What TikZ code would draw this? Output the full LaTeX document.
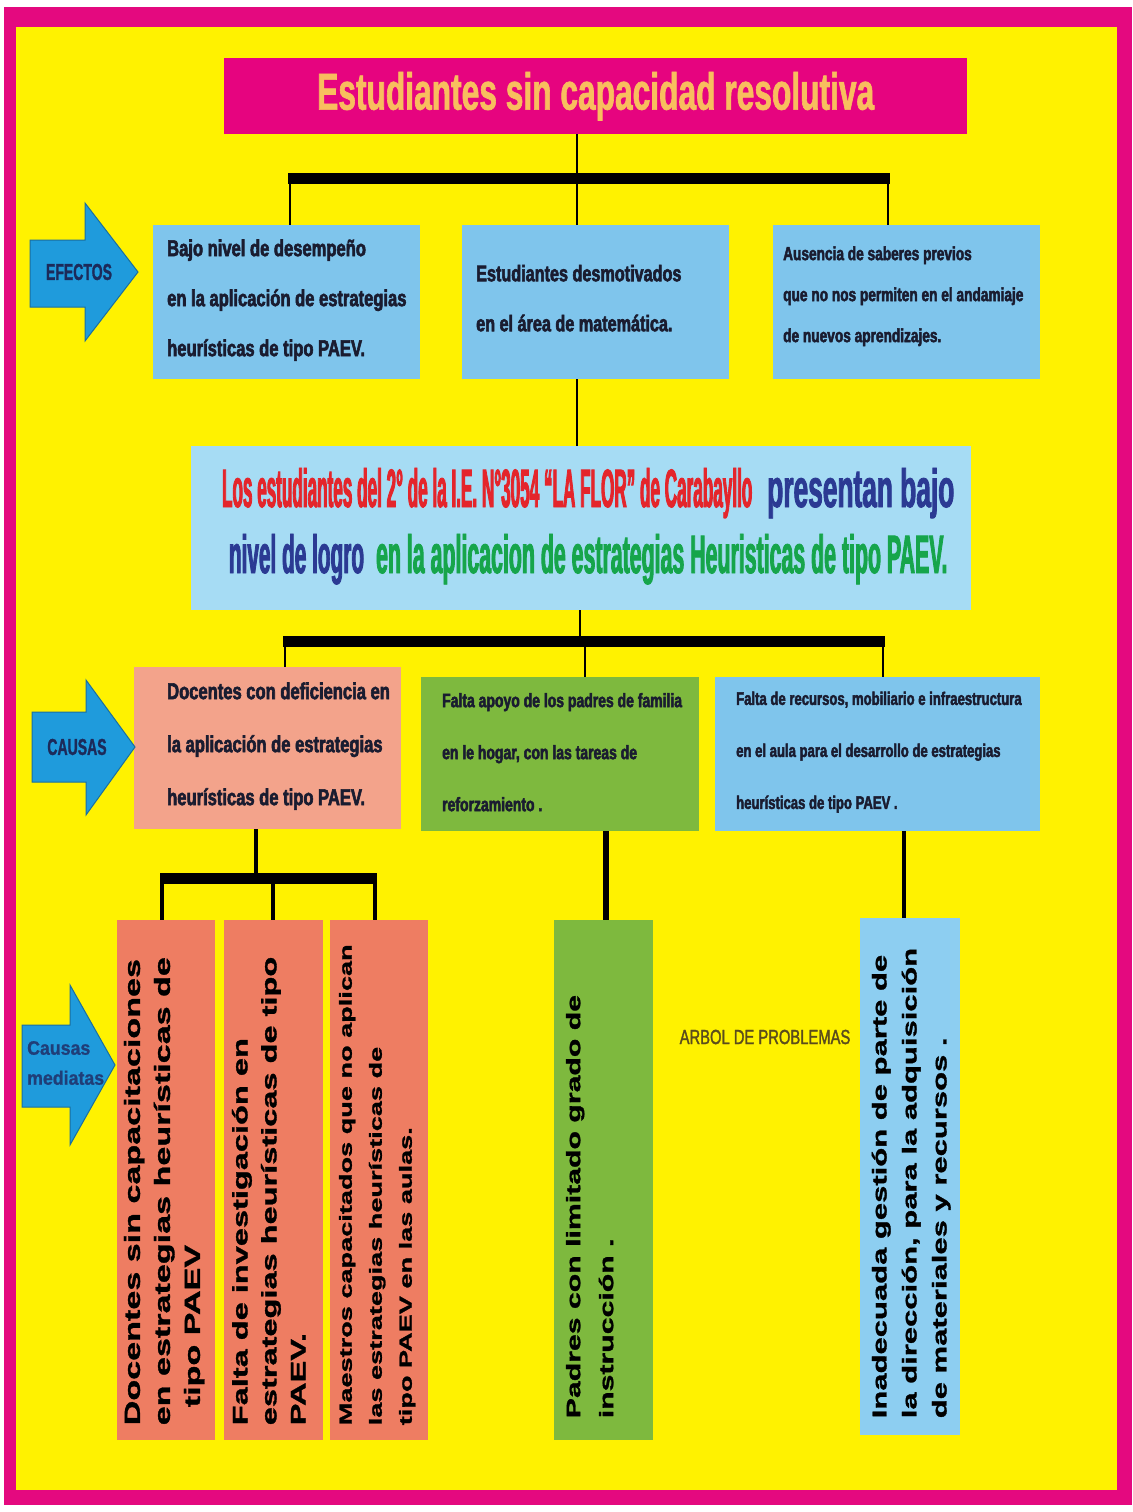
\documentclass[tikz,border=0pt]{standalone}
\usepackage{fontspec}
\setmainfont{Liberation Sans}
\newfontfamily\fontTitle[FakeStretch=0.61,FakeBold=1.2]{Liberation Sans}
\newfontfamily\fontEff[FakeStretch=0.72,FakeBold=2.5]{Liberation Sans}
\newfontfamily\fontArb[FakeStretch=0.72,FakeBold=1.5]{Liberation Sans}
\newfontfamily\fontRed[FakeStretch=0.317,FakeBold=1.5]{Liberation Sans}
\newfontfamily\fontBlu[FakeStretch=0.487,FakeBold=1.5]{Liberation Sans}
\newfontfamily\fontNiv[FakeStretch=0.385,FakeBold=1.5]{Liberation Sans}
\newfontfamily\fontGrn[FakeStretch=0.395,FakeBold=1.5]{Liberation Sans}
\newfontfamily\fontVert[FakeStretch=1.55,FakeBold=1.5]{Liberation Sans}
\newfontfamily\fontArw[FakeStretch=0.91,FakeBold=1]{Liberation Sans}
\definecolor{yel}{HTML}{FFF200}
\definecolor{mag}{HTML}{E4097F}
\definecolor{ttlbox}{HTML}{E6047F}
\definecolor{ttltxt}{HTML}{F8BE5E}
\definecolor{effb}{HTML}{7FC5EC}
\definecolor{cenb}{HTML}{A6DCF4}
\definecolor{salm}{HTML}{F3A38B}
\definecolor{grnb}{HTML}{7EB93E}
\definecolor{coral}{HTML}{EE7D62}
\definecolor{vblue}{HTML}{8DCEF1}
\definecolor{arrb}{HTML}{1F9BDC}
\definecolor{arrd}{HTML}{1A6FA0}
\definecolor{dk}{HTML}{1A1C30}
\definecolor{navyt}{HTML}{1C2A5A}
\definecolor{navy2}{HTML}{1F3E78}
\definecolor{redt}{HTML}{E4252B}
\definecolor{bluet}{HTML}{2B3A93}
\definecolor{grnt}{HTML}{16A54B}
\definecolor{olive}{HTML}{5A4C1C}
\tikzset{
  boxsty/.style={draw=none, inner sep=0pt, anchor=north west},
  txt/.style={inner sep=0pt, align=left, anchor=west, text=dk},
  vtxt/.style={inner sep=0pt, align=left, anchor=west, rotate=90, text=black},
  conn/.style={draw=black, line width=2.5pt},
  connb/.style={draw=black, line width=4.5pt},
  connc/.style={draw=black, line width=6pt},
  hbar/.style={draw=black, line width=11pt, shorten <=-2pt, shorten >=-2pt},
  arrowshape/.style={fill=arrb, draw=arrd, line width=1pt, line join=miter}
}
\begin{document}
\begin{tikzpicture}[x=1pt,y=-1pt]
\useasboundingbox (0,0) rectangle (1132,1512);
\fill[white] (0,0) rectangle (1132,1512);
\fill[mag] (4,7) rectangle (1132,1505);
\fill[yel] (16,27) rectangle (1117,1490);

% title
\node[boxsty, fill=ttlbox, minimum width=743pt, minimum height=76pt] (title) at (224,58) {};
\node[inner sep=0pt, text=ttltxt, font=\fontTitle\bfseries\fontsize{52pt}{60pt}\selectfont] (titlet) at (title.center) {Estudiantes sin capacidad resolutiva};

% effects
\node[boxsty, fill=effb, minimum width=267pt, minimum height=154pt] (e1) at (153,225) {};
\node[boxsty, fill=effb, minimum width=267pt, minimum height=154pt] (e2) at (462,225) {};
\node[boxsty, fill=effb, minimum width=267pt, minimum height=154pt] (e3) at (773,225) {};
\node[txt, font=\fontEff\bfseries\fontsize{23pt}{50pt}\selectfont] (e1t) at ([xshift=14pt,yshift=2pt]e1.west) {Bajo nivel de desempeño\\en la aplicación de estrategias\\heurísticas de tipo PAEV.};
\node[txt, font=\fontEff\bfseries\fontsize{22.5pt}{50pt}\selectfont] (e2t) at ([xshift=14pt,yshift=4pt]e2.west) {Estudiantes desmotivados\\en el área de matemática.};
\node[txt, font=\fontEff\bfseries\fontsize{19pt}{41pt}\selectfont] (e3t) at ([xshift=10pt,yshift=6pt]e3.west) {Ausencia de saberes previos\\que no nos permiten en el andamiaje\\de nuevos aprendizajes.};

% central
\node[boxsty, fill=cenb, minimum width=780pt, minimum height=164pt] (cen) at (191,446) {};
\node[inner sep=0pt, align=center, font=\bfseries\fontsize{54pt}{66pt}\selectfont] (cent) at ([xshift=7pt,yshift=2pt]cen.center)
 {{\fontRed\color{redt}Los estudiantes del 2° de la I.E. N°3054 “LA FLOR” de Carabayllo} {\fontBlu\color{bluet}presentan bajo}\\
  {\fontNiv\color{bluet}nivel de logro}\hspace{12pt}{\fontGrn\color{grnt}en la aplicacion de estrategias Heuristicas de tipo PAEV.}};

% causes
\node[boxsty, fill=salm, minimum width=267pt, minimum height=162pt] (c1) at (134,667) {};
\node[boxsty, fill=grnb, minimum width=278pt, minimum height=154pt] (c2) at (421,677) {};
\node[boxsty, fill=effb, minimum width=325pt, minimum height=154pt] (c3) at (715,677) {};
\node[txt, font=\fontEff\bfseries\fontsize{23pt}{53pt}\selectfont] (c1t) at ([xshift=33pt,yshift=2pt]c1.west) {Docentes con deficiencia en\\la aplicación de estrategias\\heurísticas de tipo PAEV.};
\node[txt, font=\fontEff\bfseries\fontsize{19.4pt}{52pt}\selectfont] (c2t) at ([xshift=21pt,yshift=2pt]c2.west) {Falta apoyo de los padres de familia\\en le hogar, con las tareas de\\reforzamiento .};
\node[txt, font=\fontEff\bfseries\fontsize{18.2pt}{52pt}\selectfont] (c3t) at ([xshift=21pt,yshift=2pt]c3.west) {Falta de recursos, mobiliario e infraestructura\\en el aula para el desarrollo de estrategias\\heurísticas de tipo PAEV .};

% mediate causes
\node[boxsty, fill=coral, minimum width=98pt, minimum height=520pt] (m1) at (117,920) {};
\node[boxsty, fill=coral, minimum width=99pt, minimum height=520pt] (m2) at (224,920) {};
\node[boxsty, fill=coral, minimum width=98pt, minimum height=520pt] (m3) at (330,920) {};
\node[boxsty, fill=grnb, minimum width=99pt, minimum height=520pt] (p1) at (554,920) {};
\node[boxsty, fill=vblue, minimum width=100pt, minimum height=517pt] (i1) at (860,918) {};
\node[vtxt, font=\fontVert\bfseries\fontsize{22pt}{30pt}\selectfont] (m1t) at ([xshift=-2pt,yshift=15pt]m1.south) {Docentes sin capacitaciones\\en estrategias heurísticas de\\\hspace*{18pt}tipo PAEV};
\node[vtxt, font=\fontVert\bfseries\fontsize{21pt}{29pt}\selectfont] (m2t) at ([xshift=-5pt,yshift=15pt]m2.south) {Falta de investigación en\\estrategias heurísticas de tipo\\PAEV.};
\node[vtxt, font=\fontVert\bfseries\fontsize{17.5pt}{30pt}\selectfont] (m3t) at ([xshift=-2pt,yshift=15pt]m3.south) {Maestros capacitados que no aplican\\las estrategias heurísticas de\\tipo PAEV en las aulas.};
\node[vtxt, font=\fontVert\bfseries\fontsize{19.5pt}{33pt}\selectfont] (p1t) at ([xshift=-14pt,yshift=22pt]p1.south) {Padres con limitado grado de\\instrucción .};
\node[vtxt, font=\fontVert\bfseries\fontsize{20pt}{30pt}\selectfont] (i1t) at ([xshift=1pt,yshift=17pt]i1.south) {Inadecuada gestión de parte de\\la dirección, para la adquisición\\de materiales y recursos .};

% side arrows
\draw[arrowshape] (30,240) -- (85,240) -- (85,203) -- (138,272) -- (85,341) -- (85,307) -- (30,307) -- cycle;
\node[inner sep=0pt, text=navyt, font=\fontTitle\bfseries\fontsize{23pt}{26pt}\selectfont] (efl) at (79,272) {EFECTOS};
\draw[arrowshape] (32,712) -- (86,712) -- (86,680) -- (135,747) -- (86,815) -- (86,782) -- (32,782) -- cycle;
\node[inner sep=0pt, text=navyt, font=\fontTitle\bfseries\fontsize{23pt}{26pt}\selectfont] (cal) at (77,747) {CAUSAS};
\draw[arrowshape] (22,1025) -- (70,1025) -- (70,985) -- (115,1065) -- (70,1145) -- (70,1107) -- (22,1107) -- cycle;
\node[inner sep=0pt, align=left, anchor=west, text=navy2, font=\fontArw\bfseries\fontsize{19.5pt}{30pt}\selectfont] (cml) at (27,1063) {Causas\\mediatas};

\node[inner sep=0pt, text=olive, font=\fontArb\fontsize{20.5pt}{24pt}\selectfont] (arbol) at (765,1037) {ARBOL DE PROBLEMAS};

% connectors top
\coordinate (jt) at (577,178);
\coordinate (bAl) at (290,178);
\coordinate (bAr) at (888,178);
\draw[conn] (title.south -| jt) -- (jt);
\draw[hbar] (bAl) -- (bAr);
\draw[conn] (bAl) -- (bAl |- e1.north);
\draw[conn] (jt) -- (jt |- e2.north);
\draw[conn] (bAr) -- (bAr |- e3.north);
\draw[conn] (e2.south -| jt) -- (jt |- cen.north);

% connectors middle
\coordinate (jb) at (580,641);
\coordinate (bBl) at (285,641);
\coordinate (bBm) at (585,641);
\coordinate (bBr) at (883,641);
\draw[conn] (cen.south -| jb) -- (jb);
\draw[hbar] (bBl) -- (bBr);
\draw[conn] (bBl) -- (bBl |- c1.north);
\draw[conn] (bBm) -- (bBm |- c2.north);
\draw[conn] (bBr) -- (bBr |- c3.north);

% connectors bottom
\coordinate (jc) at (256,878);
\coordinate (bCl) at (162,878);
\coordinate (bCm) at (273,878);
\coordinate (bCr) at (375,878);
\coordinate (xp) at (606,830);
\coordinate (xi) at (904,830);
\draw[connb] (c1.south -| jc) -- (jc);
\draw[hbar] (bCl) -- (bCr);
\draw[connb] (bCl) -- (bCl |- m1.north);
\draw[connb] (bCm) -- (bCm |- m2.north);
\draw[connb] (bCr) -- (bCr |- m3.north);
\draw[connc] (c2.south -| xp) -- (xp |- p1.north);
\draw[connb] (c3.south -| xi) -- (xi |- i1.north);
\end{tikzpicture}
\end{document}
